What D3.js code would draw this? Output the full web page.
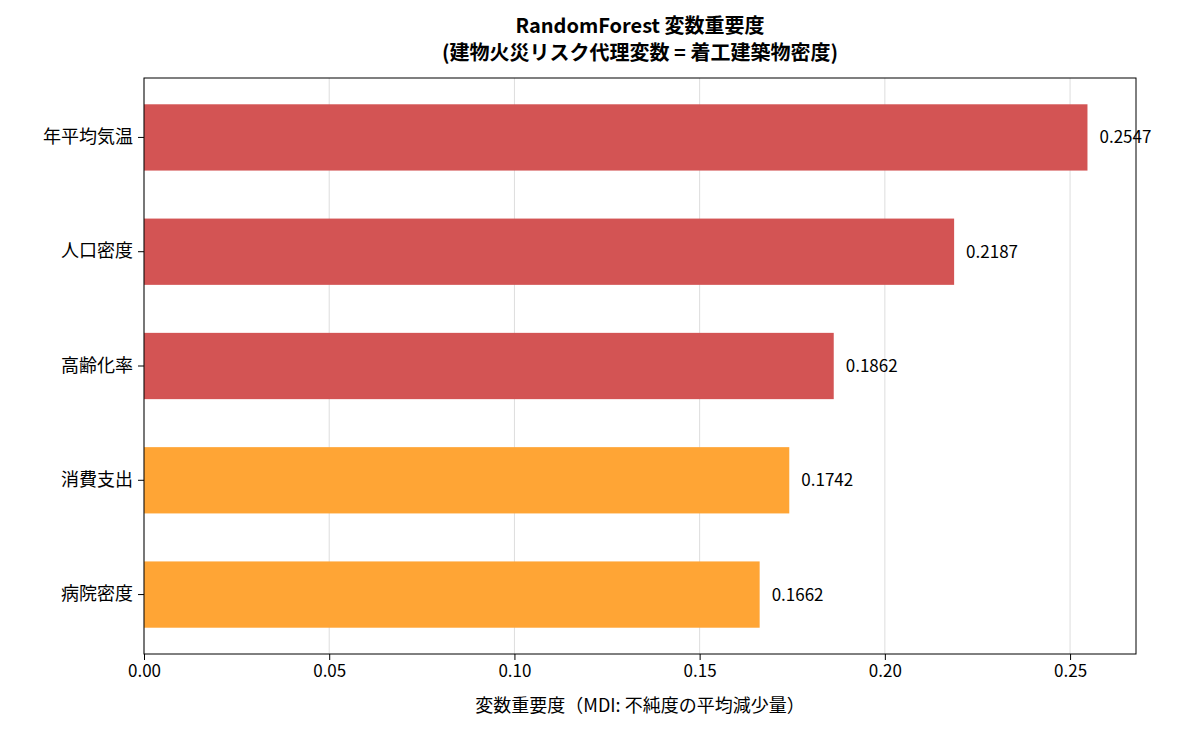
<!DOCTYPE html>
<html lang="ja">
<head>
<meta charset="UTF-8">
<style>
body { margin: 0; background: #fff; font-family: "Noto Sans CJK JP", "DejaVu Sans", sans-serif; }
.grid line { stroke: #ddd; stroke-width: 1; }
.axis text { font-size: 17px; fill: #000; font-family: "Noto Sans CJK JP", sans-serif; }
.y.axis text { font-size: 18px; }
</style>
</head>
<body>
<div id="graph"></div>
<script src="https://d3js.org/d3.v7.min.js"></script>
<script>
const features = ["年平均気温", "人口密度", "高齢化率", "消費支出", "病院密度"];
const importance = [0.2547, 0.2187, 0.1862, 0.1742, 0.1662];
const barColors = ["#d35454", "#d35454", "#d35454", "#ffa535", "#ffa535"];
const xTicks = [0, 0.05, 0.10, 0.15, 0.20, 0.25];

const width = 1182, height = 735;
const margin = {top: 78, left: 144, right: 46, bottom: 81};
const chartWidth = width - margin.left - margin.right;
const chartHeight = height - margin.top - margin.bottom;

const svg = d3.select("#graph").append("svg").attr("width", width).attr("height", height);
const g = svg.append("g").attr("transform", `translate(${margin.left},${margin.top})`);

const xScale = d3.scaleLinear().domain([0, 0.2678]).range([0, chartWidth]);
const yScale = d3.scaleBand().domain(features).range([0, chartHeight]).paddingInner(0.42).paddingOuter(0.23);

// grid
g.append("g").attr("class", "grid").selectAll("line").data(xTicks).join("line")
    .attr("x1", d => xScale(d)).attr("x2", d => xScale(d))
    .attr("y1", 0).attr("y2", chartHeight);

g.selectAll(".bar").data(features).join("rect")
    .attr("class", "bar")
    .attr("x", 0)
    .attr("y", d => yScale(d))
    .attr("width", (d, i) => xScale(importance[i]))
    .attr("height", yScale.bandwidth())
    .attr("fill", (d, i) => barColors[i]);

g.selectAll(".val").data(features).join("text")
    .attr("x", (d, i) => xScale(importance[i]) + 12)
    .attr("y", d => yScale(d) + yScale.bandwidth() / 2)
    .attr("dy", "0.35em")
    .style("font-size", "17px")
    .text((d, i) => importance[i].toFixed(4));

const xAxis = d3.axisBottom(xScale).tickValues(xTicks).tickFormat(d3.format(".2f")).tickSizeOuter(0).tickPadding(5);
g.append("g").attr("class", "x axis").attr("transform", `translate(0,${chartHeight})`).call(xAxis);
const yAxis = d3.axisLeft(yScale).tickSizeOuter(0).tickPadding(5);
g.append("g").attr("class", "y axis").call(yAxis);
g.selectAll(".axis .domain").remove();

g.append("rect").attr("width", chartWidth).attr("height", chartHeight)
    .attr("fill", "none").attr("stroke", "#000").attr("stroke-width", 1);

svg.append("text").attr("x", margin.left + chartWidth / 2).attr("y", 33)
    .attr("text-anchor", "middle").style("font-size", "20px").style("font-weight", "bold")
    .text("RandomForest 変数重要度");
svg.append("text").attr("x", margin.left + chartWidth / 2).attr("y", 60)
    .attr("text-anchor", "middle").style("font-size", "20px").style("font-weight", "bold")
    .text("(建物火災リスク代理変数 = 着工建築物密度)");
svg.append("text").attr("x", margin.left + chartWidth / 2).attr("y", 712)
    .attr("text-anchor", "middle").style("font-size", "18px")
    .text("変数重要度（MDI: 不純度の平均減少量）");
</script>
</body>
</html>
